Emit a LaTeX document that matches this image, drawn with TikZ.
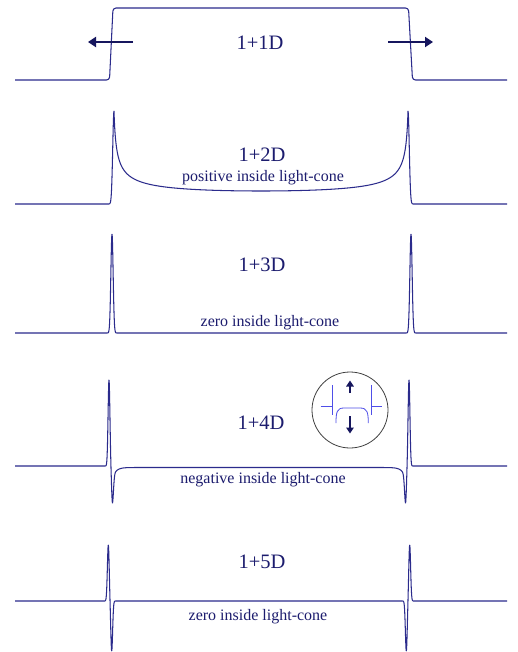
\documentclass[tikz,border=0pt]{standalone}
\usepackage{fontspec}
\setmainfont{Liberation Serif}
\usetikzlibrary{arrows.meta}
\definecolor{navy}{HTML}{1C1C6E}
\definecolor{curvec}{HTML}{2B2B8C}
\definecolor{arrowc}{HTML}{16165E}
\definecolor{insetblue}{HTML}{4F4FE8}
\definecolor{ringc}{HTML}{404040}
\begin{document}
\begin{tikzpicture}[x=1pt,y=-1pt,
  declare function={
    gs(\px,\pc,\pw)=exp(-((\px-\pc)/\pw)*((\px-\pc)/\pw));
    ptwo(\px)=204-193/sqrt(220.41-((\px-261)/10)*((\px-261)/10));
    pfa(\px)=466-86*gs(\px,109,1.3)+37*gs(\px,112.5,1.3);
    pfb(\px)=467.5-86*gs(\px,109,1.3)+25*gs(\px,112.5,1.4)+10.5*exp(-(\px-112.5)/3.5);
  },
  wave/.style={draw=curvec, line width=1.05pt, line join=round},
  big/.style={text=navy, font=\fontsize{20.5}{24}\selectfont, inner sep=0pt},
  small/.style={text=navy, font=\fontsize{16}{19}\selectfont, inner sep=0pt},
  bigarrow/.style={draw=arrowc, line width=2pt, -{Triangle[length=8pt,width=10pt]}},
  smallarrow/.style={draw=arrowc, line width=1.6pt, -{Triangle[length=6pt,width=7.5pt]}},
  insetline/.style={draw=insetblue, line width=0.8pt},
]
\fill[white] (0,0) rectangle (517,652);
\useasboundingbox (0,0) rectangle (517,652);

% ---------- 1+1D ----------
\draw[wave, rounded corners=3pt] (15,80) -- (109.5,80) -- (113,8) -- (408.5,8) -- (412.5,80) -- (507,80);
\node[big] (t1) at (260,43) {1+1D};
\coordinate (a1s) at (133,42); \coordinate (a1e) at (88,42);
\coordinate (a2s) at (388,42); \coordinate (a2e) at (433,42);
\draw[bigarrow] (a1s) -- (a1e);
\draw[bigarrow] (a2s) -- (a2e);

% ---------- 1+2D ----------
\draw[wave] (15,204) -- (104,204)
  -- plot[domain=104:114,samples=40] (\x,{204-92.9*gs(\x,114,1.8)})
  -- plot[domain=114:130,samples=120] (\x,{ptwo(\x)})
  -- plot[domain=130:392,samples=120] (\x,{ptwo(\x)})
  -- plot[domain=392:408,samples=120] (\x,{ptwo(\x)})
  -- plot[domain=408:418,samples=40] (\x,{204-92.9*gs(\x,408,1.8)})
  -- (507,204);
\node[big] (t2) at (262,155) {1+2D};
\node[small] (s2) at (263,178) {positive inside light-cone};

% ---------- 1+3D ----------
\draw[wave] (15,333) -- (104,333)
  -- plot[domain=104:120,samples=80] (\x,{333-99*gs(\x,112,1.6)})
  -- (403,333)
  -- plot[domain=403:419,samples=80] (\x,{333-99*gs(\x,411,1.6)})
  -- (507,333);
\node[big] (t3) at (262,265) {1+3D};
\node[small] (s3) at (270,323) {zero inside light-cone};

% ---------- 1+4D ----------
\draw[wave] (15,466) -- (103,466)
  -- plot[domain=103:112.5,samples=60] (\x,{pfa(\x)})
  -- plot[domain=112.5:145,samples=120] (\x,{pfb(\x)})
  -- plot[domain=145:112.5,samples=120] ({518-\x},{pfb(\x)})
  -- plot[domain=112.5:103,samples=60] ({518-\x},{pfa(\x)})
  -- (507,466);
\node[big] (t4) at (261,423) {1+4D};
\node[small] (s4) at (263,480) {negative inside light-cone};

% inset
\node[circle, draw=ringc, line width=0.8pt, minimum size=76pt, inner sep=0pt] (inset) at (350,410) {};
\draw[insetline] (320.7,406) -- (332.3,406);
\draw[insetline] (332.3,385) -- (332.3,415);
\draw[insetline] (371,385) -- (371,415);
\draw[insetline] (371,406) -- (381.7,406);
\draw[insetline] (336,423) .. controls (336,412) and (337,408) .. (344,408)
  -- (360,408) .. controls (367,408) and (368.3,412) .. (368.3,423);
\coordinate (u1) at (350,393); \coordinate (u2) at (350,380.5);
\coordinate (d1) at (350,416); \coordinate (d2) at (350,433.5);
\draw[smallarrow] (u1) -- (u2);
\draw[smallarrow] (d1) -- (d2);

% ---------- 1+5D ----------
\draw[wave] (15,601) -- (102,601)
  -- plot[domain=102:120,samples=100] (\x,{601-56*gs(\x,108.3,1.3)+50*gs(\x,111.7,1.3)})
  -- (398,601)
  -- plot[domain=398:416,samples=100] (\x,{601+50*gs(\x,406.3,1.3)-56*gs(\x,409.7,1.3)})
  -- (507,601);
\node[big] (t5) at (262,562) {1+5D};
\node[small] (s5) at (258,617) {zero inside light-cone};
\end{tikzpicture}
\end{document}
